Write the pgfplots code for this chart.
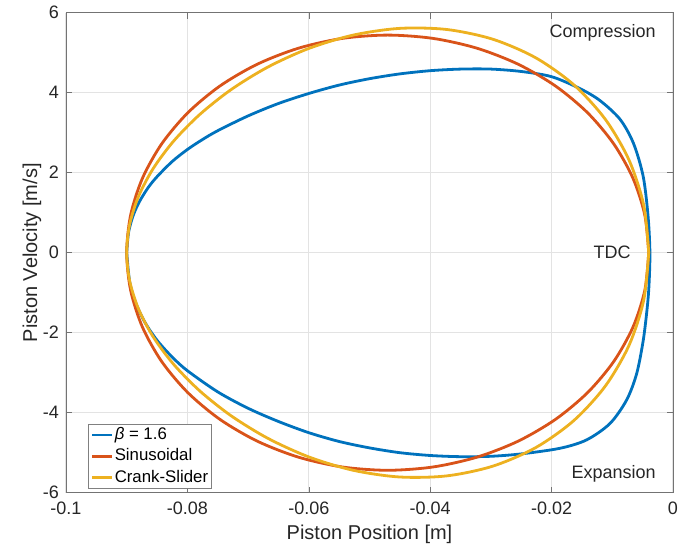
\documentclass[border=0pt]{standalone}
\usepackage{pgfplots}
\pgfplotsset{compat=1.18}
\usepackage{fontspec}
\setmainfont{Liberation Sans}

\definecolor{mblue}{rgb}{0,0.447,0.741}
\definecolor{mred}{rgb}{0.85,0.325,0.098}
\definecolor{myellow}{rgb}{0.929,0.694,0.125}

\begin{document}
\begin{tikzpicture}
  \begin{axis}[
    scale only axis,
    width=303.5pt,
    height=240pt,
    xmin=-0.1, xmax=0,
    ymin=-6, ymax=6,
    xtick={-0.1,-0.08,-0.06,-0.04,-0.02,0},
    xticklabels={-0.1,-0.08,-0.06,-0.04,-0.02,0},
    ytick={-6,-4,-2,0,2,4,6},
    scaled x ticks=false,
    /pgf/number format/assume math mode=true,
    tick label style={font=\fontsize{9}{10}\selectfont, text=black!85},
    xticklabel style={yshift=-1pt},
    tick align=inside,
    tickpos=both,
    major tick length=3pt,
    axis line style={black!55},
    tick style={black!55},
    grid=major,
    grid style={gray!22, line width=0.5pt},
    xlabel={Piston Position [m]},
    ylabel={Piston Velocity [m/s]},
    label style={font=\fontsize{10}{12}\selectfont, text=black!85},
    xlabel style={at={(axis description cs:0.5,-0.0875)}, anchor=center},
    ylabel style={at={(axis description cs:-0.056,0.5)}, anchor=center},
    legend style={at={(axis description cs:0.037,0.008)}, anchor=south west,
      font=\fontsize{8.4}{10}\selectfont, draw=black!50, line width=0.5pt,
      inner xsep=1pt, inner ysep=0.5pt, row sep=1.1pt, cells={anchor=west},
      nodes={inner xsep=0.5pt, inner ysep=1pt}},
    legend image code/.code={\draw[#1, line width=1.4pt] (0pt,0pt) -- (10pt,0pt);},
    every axis plot/.append style={line width=1.4pt},
  ]
    % beta = 1.6
    \addplot[mblue, smooth] coordinates {
      (-0.0900,0) (-0.0897,0.50) (-0.0890,0.90) (-0.0880,1.25) (-0.0865,1.62)
      (-0.0850,1.90) (-0.0825,2.28) (-0.0800,2.58) (-0.0775,2.83) (-0.0750,3.05)
      (-0.0700,3.42) (-0.0650,3.73) (-0.0600,3.98)
      (-0.0550,4.19) (-0.0500,4.35) (-0.0450,4.47) (-0.0400,4.55) (-0.0350,4.59)
      (-0.0300,4.59) (-0.0250,4.53) (-0.0200,4.40) (-0.0153,4.10) (-0.0120,3.80)
      (-0.0087,3.33) (-0.0065,2.73) (-0.0049,1.90) (-0.0041,0.90) (-0.0038,0)
      (-0.00395,-0.80) (-0.00423,-1.35) (-0.00489,-2.18) (-0.00598,-3.02)
      (-0.00763,-3.68) (-0.01038,-4.27) (-0.01423,-4.68) (-0.01862,-4.89)
      (-0.0250,-5.03) (-0.0300,-5.09) (-0.0350,-5.10) (-0.0400,-5.07)
      (-0.0450,-5.00) (-0.0500,-4.88) (-0.0550,-4.72) (-0.0600,-4.50)
      (-0.0650,-4.22) (-0.0700,-3.89) (-0.0750,-3.48) (-0.0800,-2.95)
      (-0.0825,-2.61) (-0.0850,-2.19) (-0.0870,-1.74) (-0.0885,-1.26)
      (-0.0895,-0.74) (-0.0900,0)
    };
    \addlegendentry{\textit{β} = 1.6}
    % sinusoidal
    \addplot[mred, smooth] coordinates {
      (-0.0040,0) (-0.004653,0.9447) (-0.006593,1.8606) (-0.009761,2.72)
      (-0.01406,3.4968) (-0.01936,4.1673) (-0.0255,4.7112) (-0.032293,5.1119)
      (-0.039533,5.3574) (-0.047,5.44) (-0.054467,5.3574) (-0.061707,5.1119)
      (-0.0685,4.7112) (-0.07464,4.1673) (-0.07994,3.4968) (-0.084239,2.72)
      (-0.087407,1.8606) (-0.089347,0.9447) (-0.090,0)
      (-0.089347,-0.9447) (-0.087407,-1.8606) (-0.084239,-2.72) (-0.07994,-3.4968)
      (-0.07464,-4.1673) (-0.0685,-4.7112) (-0.061707,-5.1119) (-0.054467,-5.3574)
      (-0.047,-5.44) (-0.039533,-5.3574) (-0.032293,-5.1119) (-0.0255,-4.7112)
      (-0.01936,-4.1673) (-0.01406,-3.4968) (-0.009761,-2.72) (-0.006593,-1.8606)
      (-0.004653,-0.9447) (-0.0040,0)
    };
    \addlegendentry{Sinusoidal}
    % crank-slider
    \addplot[myellow, smooth] coordinates {
      (-0.0040,0) (-0.004822,1.1868) (-0.007248,2.3170) (-0.011165,3.3377)
      (-0.016386,4.2032) (-0.022674,4.8780) (-0.029748,5.3398) (-0.037305,5.5807)
      (-0.045047,5.6076) (-0.052688,5.44) (-0.059981,5.1072) (-0.066719,4.6431)
      (-0.072748,4.0826) (-0.077954,3.4566) (-0.082266,2.7904) (-0.085643,2.1023)
      (-0.088062,1.4042) (-0.089516,0.7025) (-0.090,0)
      (-0.089516,-0.7025) (-0.088062,-1.4042) (-0.085643,-2.1023) (-0.082266,-2.7904)
      (-0.077954,-3.4566) (-0.072748,-4.0826) (-0.066719,-4.6431) (-0.059981,-5.1072)
      (-0.052688,-5.44) (-0.045047,-5.6076) (-0.037305,-5.5807) (-0.029748,-5.3398)
      (-0.022674,-4.8780) (-0.016386,-4.2032) (-0.011165,-3.3377) (-0.007248,-2.3170)
      (-0.004822,-1.1868) (-0.0040,0)
    };
    \addlegendentry{Crank-Slider}
    \node[anchor=east, font=\fontsize{9}{10}\selectfont, text=black!85] at (axis cs:-0.0017,5.49) {Compression};
    \node[anchor=east, font=\fontsize{9}{10}\selectfont, text=black!85] at (axis cs:-0.0058,0) {TDC};
    \node[anchor=east, font=\fontsize{9}{10}\selectfont, text=black!85] at (axis cs:-0.0017,-5.53) {Expansion};
  \end{axis}
  \pgfresetboundingbox
  \path[use as bounding box] ([shift={(-33pt,-28.15pt)}]current axis.south west)
    rectangle ([shift={(7pt,6.35pt)}]current axis.north east);
\end{tikzpicture}
\end{document}
